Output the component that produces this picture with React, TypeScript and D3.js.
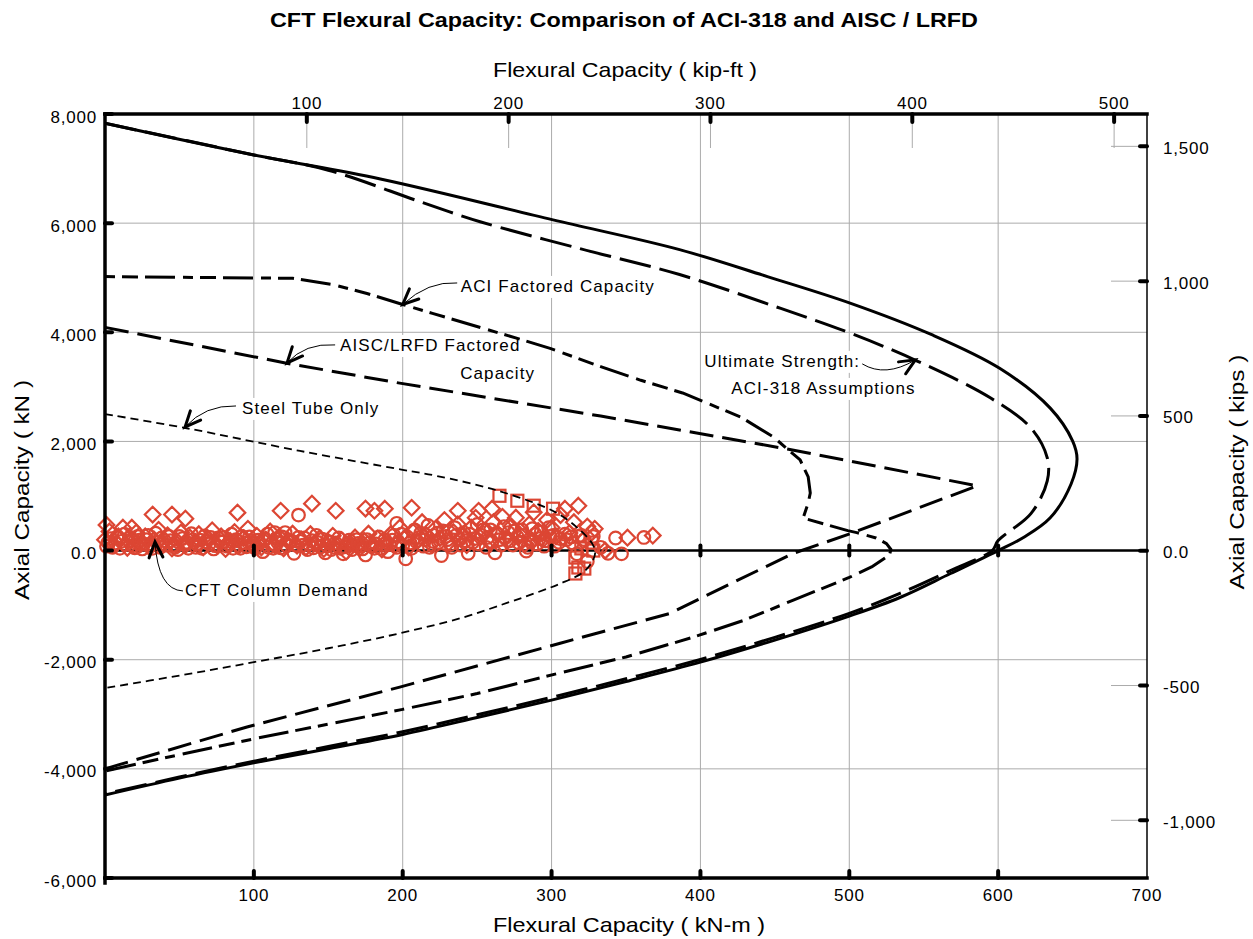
import React from "react";
import * as d3 from "d3";

type Pt = [number, number];

// ---- data (kN-m, kN) ----
const ultimateSolid: Pt[] = [
  [0, 7830], [100, 7250], [185, 6810], [301, 6060], [386, 5515], [445, 5020], [501, 4530],
  [555, 3960], [601, 3340], [635, 2610], [650, 2010], [653, 1680], [649, 1220], [635, 600],
  [617, 240], [600, 0], [568, -420], [534, -860], [500, -1200], [450, -1640], [400, -2045],
  [350, -2400], [300, -2740], [250, -3060], [200, -3370], [150, -3630], [100, -3890],
  [50, -4170], [0, -4480],
];

const ultimateAci: Pt[] = [
  [0, 7830], [100, 7250], [150, 6970], [212, 6390], [252, 6026], [319, 5533], [386, 5058],
  [454, 4437], [501, 3981], [546, 3469], [595, 2794], [622, 2246], [633, 1698], [633, 1278],
  [622, 676], [600, 183], [596, 0], [568, -365], [534, -785], [500, -1150], [450, -1590],
  [400, -1995], [350, -2350], [300, -2690], [250, -3010], [200, -3320], [150, -3590],
  [100, -3860], [50, -4150], [0, -4460],
];

const aciFactored: Pt[] = [
  [0, 5020], [126, 4990], [153, 4875], [176, 4711], [200, 4510], [220, 4346], [254, 4072],
  [277, 3889], [299, 3706], [333, 3370], [360, 3120], [388, 2888], [427, 2448], [449, 2082],
  [467, 1660], [472.4, 1349], [473.8, 1055], [472.4, 872], [469, 597], [499, 365], [505, 329],
  [518, 230], [525, 128], [528, 20], [527, -80], [515, -300], [500, -493], [462, -913],
  [430, -1270], [395, -1589], [350, -1950], [306, -2240], [250, -2620], [200, -2910],
  [150, -3180], [100, -3450], [50, -3740], [0, -4040],
];

const aiscFactored: Pt[] = [
  [0, 4090], [122, 3433], [198, 3068], [333, 2465], [458, 1863], [586, 1187],
  [500.7, 310], [462, -55], [400, -876], [379.7, -1150], [305.8, -1698], [198, -2502],
  [95.4, -3232], [0, -4000],
];

const steelTube: Pt[] = [
  [0, 2502], [54, 2246], [131, 1826], [200, 1480], [222.5, 1370], [263, 1105], [302, 712],
  [318, 402], [327.3, 128], [329.3, -37], [327, -219], [321, -402], [306, -603], [290, -770],
  [270, -960], [240, -1230], [198, -1516], [150, -1790], [100, -2045], [50, -2290], [0, -2520],
];

const demandCircles: Pt[] = [
  [1, 80], [4, 220], [7, 140], [10, 40], [13, 300], [16, 180], [19, 90], [22, 260], [25, 30],
  [28, 200], [31, 120], [34, 320], [37, 60], [40, 180], [43, 260], [46, 100], [49, 20],
  [52, 220], [55, 150], [58, 310], [61, 60], [64, 190], [67, 270], [70, 120], [73, 30],
  [76, 230], [79, 160], [82, 80], [85, 300], [88, 200], [91, 40], [94, 140], [97, 250],
  [100, 90], [103, 190], [106, -20], [109, 300], [112, 130], [115, 220], [118, 50], [121, 330],
  [124, 160], [127, -50], [130, 240], [133, 100], [136, 20], [139, 180], [142, 280], [145, 70],
  [148, -40], [151, 160], [154, 60], [157, 230], [160, -60], [163, 120], [166, 20], [169, 200],
  [172, 90], [175, -80], [178, 150], [181, 40], [184, 250], [187, 110], [190, -20], [193, 190],
  [196, 60], [199, 300], [202, -150], [205, 140], [208, 380], [211, 240], [214, 80], [217, 460],
  [220, 170], [223, 320], [226, -90], [229, 260], [232, 110], [235, 420], [238, 200], [241, 330],
  [244, -50], [247, 150], [250, 480], [253, 280], [256, 60], [259, 380], [262, -40], [265, 200],
  [268, 440], [271, 330], [274, 100], [277, 250], [280, 380], [283, -10], [286, 160], [289, 300],
  [292, 220], [295, 80], [298, 420], [301, 280], [305, 150], [309, 300], [313, 250], [317, -60],
  [320, 280], [324, -200], [328, 260], [333, 60], [338, -50], [343, 230], [347, -60], [362, 240],
  [130, 650], [114, 330], [196, 500], [287, 400],
  [2, 150], [5, 60], [8, 250], [11, 170], [14, 110], [17, 240], [20, 50], [23, 190], [26, 120],
  [29, 280], [32, 40], [35, 150], [38, 230], [41, 100], [44, 180], [47, 60], [50, 260], [53, 120],
  [56, 40], [59, 200], [62, 130], [65, 40], [68, 160], [71, 240], [74, 90], [77, 170], [80, 240],
  [83, 120], [86, 40], [89, 180], [92, 260], [95, 70], [98, 180], [101, 40], [104, 140],
  [107, 220], [110, 60], [113, 40], [116, 150], [119, 250], [122, 90], [125, 180], [128, 100],
  [131, 170], [134, 230], [137, 120], [140, 50], [143, 150], [146, 210], [149, 90], [152, 20],
  [155, 140], [158, 40], [161, 70], [164, 190], [167, 100], [170, 130], [173, 30], [176, 200],
  [179, 80], [182, 120], [185, 40], [188, 200], [191, 110], [194, 280], [197, 160], [200, 90],
  [203, 250], [206, 40], [209, 170], [212, 320], [215, 200], [218, 60], [221, 280], [224, 150],
  [227, 360], [230, 200], [233, 60], [236, 280], [239, 100], [242, 180], [245, 300], [248, 220],
  [251, 120], [254, 380], [257, 240], [260, 160], [263, 320], [266, 100], [269, 240], [272, 180],
  [275, 360], [278, 140], [281, 280], [284, 60], [287, 200], [290, 120], [293, 340], [296, 180],
  [299, 260], [302, 80], [306, 220], [310, 200], [314, 140], [318, 260], [322, 200],
];

const demandDiamonds: Pt[] = [
  [0, 200], [3, 350], [6, 100], [9, 260], [12, 420], [15, 50], [18, 190], [21, 330], [24, 120],
  [27, 260], [30, 60], [33, 200], [36, 380], [39, 140], [42, 280], [45, 40], [48, 180],
  [51, 330], [54, 100], [57, 240], [1, 470], [18, 420], [32, 660], [45, 660], [54, 585],
  [60, 140], [63, 300], [66, 60], [69, 220], [72, 370], [75, 110], [78, 260], [81, 30],
  [84, 180], [87, 340], [90, 90], [93, 230], [96, 400], [99, 130], [102, 270], [105, 60],
  [108, 200], [111, 350], [114, 100], [117, 250], [120, 40], [123, 190], [126, 310], [129, 90],
  [89, 695], [118, 730], [139, 860], [155, 730], [175, 770], [181, 730],
  [132, 200], [135, 60], [138, 300], [141, 130], [144, 220], [147, 30], [150, 160], [153, 270],
  [156, 80], [159, 190], [162, -20], [165, 120], [168, 240], [171, 40], [174, 180], [177, 310],
  [180, 100], [183, 220], [186, 20], [189, 160], [192, 300], [195, 100], [198, 420], [201, 220],
  [204, 60], [207, 340], [210, 180], [213, 520], [216, 280], [219, 120], [222, 400], [225, 230],
  [228, 560], [231, 150], [234, 340], [237, 480], [240, 260], [243, 100], [246, 420], [249, 600],
  [252, 240], [255, 360], [258, 160], [261, 520], [188, 767], [206, 785], [237, 730], [251, 730],
  [260, 767], [264, 300], [267, 620], [270, 180], [273, 440], [276, 603], [279, 280], [282, 120],
  [285, 480], [288, 700], [291, 360], [294, 200], [297, 560], [300, 420], [303, 260], [306, 650],
  [309, 767], [312, 320], [315, 520], [318, 822], [321, 180], [324, 440], [327, 330], [329, 400],
  [336, 0], [351, 237], [368, 274],
];

const demandSquares: Pt[] = [
  [265, 1004], [277, 913], [288, 822], [301, 767], [316, -128], [318, -310], [322, -330],
  [316, -420], [328, 0], [327, 146], [320, 40],
];

const bottomTicks = [100, 200, 300, 400, 500, 600, 700];
const leftTicks = [8000, 6000, 4000, 2000, 0, -2000, -4000, -6000];
const leftLabels = ["8,000", "6,000", "4,000", "2,000", "0.0", "-2,000", "-4,000", "-6,000"];
const topTicks = [100, 200, 300, 400, 500];
const rightTicks = [1500, 1000, 500, 0, -500, -1000];
const rightLabels = ["1,500", "1,000", "500", "0.0", "-500", "-1,000"];

const KNM_PER_KIPFT = 1.35582;

// annotations: tip, control, start of leader (data units), label lines
const annotations = [
  { tip: [200, 4510], ctrl: [217, 4940], start: [236.6, 4904],
    lines: [{ text: "ACI Factored Capacity", at: [239, 4831] }] },
  { tip: [122.3, 3439], ctrl: [134.4, 3806], start: [154.6, 3769],
    lines: [{ text: "AISC/LRFD Factored", at: [157.9, 3749] }, { text: "Capacity", at: [238.6, 3236] }] },
  { tip: [53.8, 2265], ctrl: [67.2, 2668], start: [88, 2650],
    lines: [{ text: "Steel Tube Only", at: [92, 2595] }] },
  { tip: [544.4, 3495], ctrl: [524.2, 3165], start: [508.7, 3421],
    lines: [{ text: "Ultimate Strength:", at: [402.6, 3458] }, { text: "ACI-318 Assumptions", at: [420.7, 2962] }] },
  { tip: [33.6, 158], ctrl: [35.6, -722], start: [52.4, -740],
    lines: [{ text: "CFT Column Demand", at: [53.8, -740] }] },
];

const RED = "#dc4633";
const FONT = "'Liberation Sans', Arial, sans-serif";

export default function App() {
  const W = 1253, H = 939;
  const L = 105, R = 1147, T = 114, B = 878;
  const x = d3.scaleLinear().domain([0, 700]).range([L, R]);
  const y = d3.scaleLinear().domain([-6000, 8000]).range([B, T]);
  const xTop = d3.scaleLinear().domain([0, 700 / KNM_PER_KIPFT]).range([L, R]);
  const yRight = d3.scaleLinear().domain([-1214, 1620]).range([B, T]);

  const smooth = d3.line<Pt>().x((d) => x(d[0])).y((d) => y(d[1])).curve(d3.curveCatmullRom.alpha(0.5));
  const straight = d3.line<Pt>().x((d) => x(d[0])).y((d) => y(d[1]));

  const diamond = (cx: number, cy: number, r: number) =>
    `M${cx},${cy - r}L${cx + r},${cy}L${cx},${cy + r}L${cx - r},${cy}Z`;

  const tickText = { fontFamily: FONT, fontSize: 17, letterSpacing: 0.8, fill: "#000" } as const;
  const annText = { fontFamily: FONT, fontSize: 17, letterSpacing: 1.1, fill: "#000" } as const;

  return (
    <svg width={W} height={H} style={{ position: "absolute", left: 0, top: 0, background: "#fff" }}>
      <rect width={W} height={H} fill="#fff" />

      {/* grid */}
      <g stroke="#ababab" strokeWidth={1}>
        {bottomTicks.filter((t) => t < 700).map((t) => (
          <line key={"gx" + t} x1={x(t)} x2={x(t)} y1={T} y2={B} />
        ))}
        {leftTicks.filter((t) => t !== 0 && t !== 8000 && t !== -6000).map((t) => (
          <line key={"gy" + t} x1={L} x2={R} y1={y(t)} y2={y(t)} />
        ))}
        {topTicks.map((t) => (
          <line key={"gt" + t} x1={xTop(t)} x2={xTop(t)} y1={T} y2={T + 34} />
        ))}
        {rightTicks.map((t) => (
          <line key={"gr" + t} x1={R - 36} x2={R} y1={yRight(t)} y2={yRight(t)} />
        ))}
      </g>

      {/* white boxes behind annotation labels */}
      <g fill="#fff">
        {annotations.flatMap((a, i) =>
          a.lines.map((ln, j) => (
            <rect key={`bx${i}-${j}`} x={x(ln.at[0]) - 3} y={y(ln.at[1]) - 11}
              width={ln.text.length * 9.3 + 6} height={22} />
          ))
        )}
      </g>

      {/* zero line */}
      <line x1={L} x2={R} y1={y(0)} y2={y(0)} stroke="#000" strokeWidth={2.6} />

      {/* demand scatter */}
      <g fill="none" stroke={RED} strokeWidth={2.2}>
        {demandDiamonds.map((d, i) => (
          <path key={"d" + i} d={diamond(x(d[0]), y(d[1]), 7.8)} />
        ))}
        {demandCircles.map((d, i) => (
          <circle key={"c" + i} cx={x(d[0])} cy={y(d[1])} r={6.3} />
        ))}
        {demandSquares.map((d, i) => (
          <rect key={"s" + i} x={x(d[0]) - 6} y={y(d[1]) - 6} width={12} height={12} />
        ))}
      </g>

      {/* interaction curves */}
      <g fill="none" stroke="#000" strokeLinejoin="round">
        <path d={smooth(steelTube) ?? ""} strokeWidth={1.8} strokeDasharray="8,5" />
        <path d={straight(aiscFactored) ?? ""} strokeWidth={3} strokeDasharray="24,9" />
        <path d={straight(aciFactored) ?? ""} strokeWidth={3} strokeDasharray="10,7,16,7,30,8" />
        <path d={smooth(ultimateAci) ?? ""} strokeWidth={3} strokeDasharray="32,9" />
        <path d={smooth(ultimateSolid) ?? ""} strokeWidth={3} />
      </g>

      {/* frame */}
      <g stroke="#000" strokeLinecap="square">
        <line x1={L} x2={R} y1={T} y2={T} strokeWidth={3.5} />
        <line x1={L} x2={R} y1={B} y2={B} strokeWidth={3.5} />
        <line x1={L} x2={L} y1={T} y2={B + 5} strokeWidth={3.5} />
        <line x1={R} x2={R} y1={T} y2={B} strokeWidth={1.5} />
      </g>

      {/* tick marks */}
      <g stroke="#000" strokeWidth={4} strokeLinecap="round">
        {leftTicks.map((t) => (
          <line key={"lt" + t} x1={L} x2={L + 7} y1={y(t)} y2={y(t)} />
        ))}
        {bottomTicks.filter((t) => t < 700).map((t) => (
          <g key={"bt" + t}>
            <line x1={x(t)} x2={x(t)} y1={B - 7} y2={B} />
            <line x1={x(t)} x2={x(t)} y1={y(0) - 5} y2={y(0) + 5} />
          </g>
        ))}
        {topTicks.map((t) => (
          <line key={"tt" + t} x1={xTop(t)} x2={xTop(t)} y1={T} y2={T + 8} />
        ))}
        {rightTicks.map((t) => (
          <line key={"rt" + t} x1={R - 7} x2={R} y1={yRight(t)} y2={yRight(t)} />
        ))}
      </g>

      {/* tick labels */}
      {leftTicks.map((t, i) => (
        <text key={"ll" + t} x={L - 8} y={y(t) + 3} textAnchor="end" dominantBaseline="central" {...tickText}>
          {leftLabels[i]}
        </text>
      ))}
      {bottomTicks.map((t) => (
        <text key={"bl" + t} x={x(t)} y={B + 17} textAnchor="middle" dominantBaseline="central" {...tickText}>
          {String(t)}
        </text>
      ))}
      {topTicks.map((t) => (
        <text key={"tl" + t} x={xTop(t)} y={T - 11} textAnchor="middle" dominantBaseline="central" {...tickText}>
          {String(t)}
        </text>
      ))}
      {rightTicks.map((t, i) => (
        <text key={"rl" + t} x={R + 16} y={yRight(t) + 2} textAnchor="start" dominantBaseline="central" {...tickText}>
          {rightLabels[i]}
        </text>
      ))}

      {/* annotations */}
      {annotations.map((a, i) => {
        const tx = x(a.tip[0]), ty = y(a.tip[1]);
        const cx = x(a.ctrl[0]), cy = y(a.ctrl[1]);
        const sx = x(a.start[0]), sy = y(a.start[1]);
        const ang = Math.atan2(cy - ty, cx - tx);
        const len = 17, spread = 0.42;
        const h1 = [tx + len * Math.cos(ang + spread), ty + len * Math.sin(ang + spread)];
        const h2 = [tx + len * Math.cos(ang - spread), ty + len * Math.sin(ang - spread)];
        return (
          <g key={"an" + i}>
            <path d={`M${sx},${sy}Q${cx},${cy} ${tx},${ty}`} fill="none" stroke="#000" strokeWidth={1} />
            <path d={`M${h1[0]},${h1[1]}L${tx},${ty}L${h2[0]},${h2[1]}`} fill="none" stroke="#000"
              strokeWidth={3} strokeLinejoin="miter" strokeLinecap="round" />
            {a.lines.map((ln, j) => (
              <text key={j} x={x(ln.at[0])} y={y(ln.at[1])} dominantBaseline="central" {...annText}>
                {ln.text}
              </text>
            ))}
          </g>
        );
      })}

      {/* titles */}
      <text x={624} y={27} textAnchor="middle" fontFamily={FONT} fontWeight="bold" fontSize={20}
        textLength={708} lengthAdjust="spacingAndGlyphs">
        CFT Flexural Capacity: Comparison of ACI-318 and AISC / LRFD
      </text>
      <text x={625} y={77} textAnchor="middle" fontFamily={FONT} fontSize={21} textLength={264}
        lengthAdjust="spacingAndGlyphs">
        Flexural Capacity ( kip-ft )
      </text>
      <text x={629} y={932} textAnchor="middle" fontFamily={FONT} fontSize={21} textLength={272}
        lengthAdjust="spacingAndGlyphs">
        Flexural Capacity ( kN-m )
      </text>
      <text transform={`translate(29,490) rotate(-90)`} textAnchor="middle" fontFamily={FONT} fontSize={21}
        textLength={220} lengthAdjust="spacingAndGlyphs">
        Axial Capacity ( kN )
      </text>
      <text transform={`translate(1244,472) rotate(-90)`} textAnchor="middle" fontFamily={FONT} fontSize={21}
        textLength={235} lengthAdjust="spacingAndGlyphs">
        Axial Capacity ( kips )
      </text>
    </svg>
  );
}
